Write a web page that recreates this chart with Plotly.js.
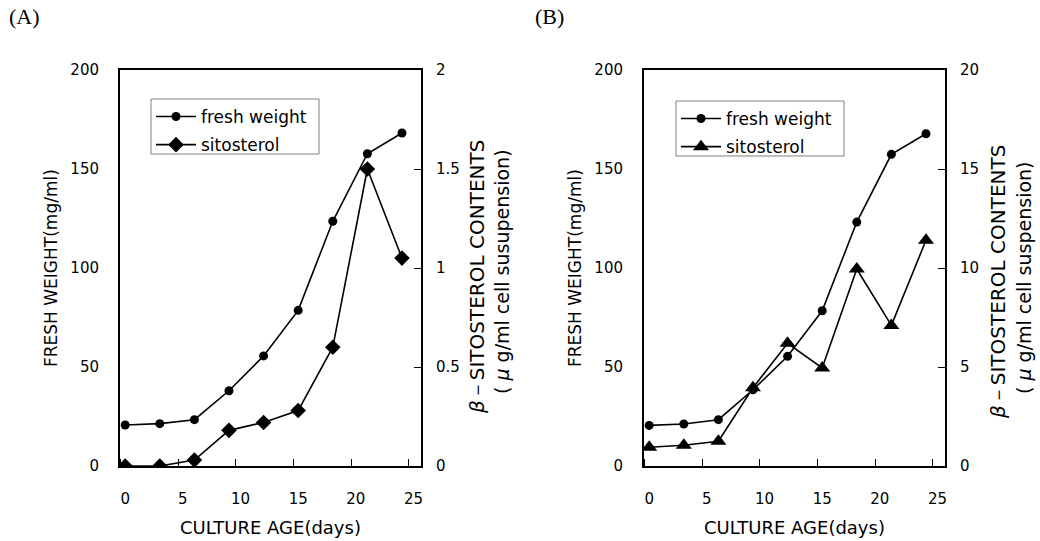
<!DOCTYPE html>
<html>
<head>
<meta charset="utf-8">
<script src="https://cdn.plot.ly/plotly-3.0.1.min.js"></script>
<style>html,body{margin:0;padding:0;background:#fff;}#chart{width:1040px;height:541px;}</style>
</head>
<body>
<div id="chart"></div>
<script>
// ---- data ----
var days = [0, 3, 6, 9, 12, 15, 18, 21, 24];
var freshA = [20.7, 21.4, 23.4, 38.0, 55.6, 78.6, 123.6, 157.7, 168.2];
var sitoA = [0, 0, 0.03, 0.18, 0.22, 0.28, 0.60, 1.50, 1.05];
var freshB = [20.5, 21.2, 23.4, 38.5, 55.4, 78.4, 123.2, 157.4, 167.8];
var sitoB = [0.95, 1.05, 1.25, 3.95, 6.2, 4.95, 9.95, 7.1, 11.4];
var xTicks = [0, 5, 10, 15, 20, 25];
var yLeftTicks = [0, 50, 100, 150, 200];
var yRightTicksA = [0, 0.5, 1, 1.5, 2];
var yRightTextA = ['0', '0.5', '1', '1.5', '2'];
var yRightTicksB = [0, 5, 10, 15, 20];
var seriesNames = ['fresh weight', 'sitosterol'];

var SANS = 'DejaVu Sans, Liberation Sans, Arial, sans-serif';
var tickFont = {family: SANS, size: 15, color: '#000'};

function fwTrace(y, xa, ya, leg) {
  return {x: days, y: y, xaxis: xa, yaxis: ya, name: seriesNames[0], legend: leg,
    legendgroup: leg + 'a', mode: 'lines+markers', type: 'scatter',
    line: {color: '#000', width: 1.6}, marker: {symbol: 'circle', size: 9, color: '#000'}};
}
function stTrace(y, xa, ya, leg, sym, size) {
  return {x: days, y: y, xaxis: xa, yaxis: ya, name: seriesNames[1], legend: leg,
    legendgroup: leg + 'b', mode: 'lines+markers', type: 'scatter',
    line: {color: '#000', width: 1.6}, marker: {symbol: sym, size: size, color: '#000'}};
}

var traces = [
  fwTrace(freshA, 'x', 'y', 'legend'),
  stTrace(sitoA, 'x', 'y2', 'legend', 'diamond', 12),
  fwTrace(freshB, 'x2', 'y3', 'legend2'),
  stTrace(sitoB, 'x2', 'y4', 'legend2', 'triangle-up', 14)
];

var W = 1040, H = 541, ML = 120, MR = 95, MT = 70, MB = 75;
var PW = W - ML - MR, PH = H - MT - MB;
function px(x) { return (x - ML) / PW; }
function py(y) { return (H - MB - y) / PH; }

function xAxis(dom, anchor) {
  return {domain: dom, anchor: anchor, range: [-0.45, 25.65], tickmode: 'array', tickvals: xTicks,
    ticks: '', showline: true, linecolor: '#000', linewidth: 2, mirror: true,
    showgrid: false, zeroline: false, tickfont: tickFont, ticklabelstandoff: 18,
    minor: {tick0: -0.4, dtick: 5, ticks: 'inside', ticklen: 7, tickcolor: '#000', tickwidth: 1, showgrid: false}};
}
function yLeft(anchor) {
  return {anchor: anchor, domain: [0, 1], range: [0, 200], tickmode: 'array', tickvals: yLeftTicks,
    ticks: '', showline: true, linecolor: '#000', linewidth: 2, showgrid: false, zeroline: false,
    tickfont: tickFont, ticklabelstandoff: 16};
}
function yRight(anchor, over, rng, vals, text) {
  return {anchor: anchor, overlaying: over, side: 'right', range: rng, tickmode: 'array', tickvals: vals,
    ticktext: text, ticks: 'inside', ticklen: 7, tickcolor: '#000', showline: true, linecolor: '#000',
    linewidth: 2, showgrid: false, zeroline: false, tickfont: tickFont, ticklabelstandoff: 10};
}

function legendCfg(x, y) {
  return {x: x, y: y, xanchor: 'left', yanchor: 'top', borderwidth: 0,
    bgcolor: 'rgba(0,0,0,0)', font: {family: SANS, size: 17, color: '#000'}, itemwidth: 40,
    traceorder: 'grouped', tracegroupgap: 3};
}

var titleFont = {family: SANS, size: 17, color: '#000'};
var rtFont1 = {family: SANS, size: 20, color: '#000'};
var rtFont2 = {family: SANS, size: 19, color: '#000'};
var labFont = {family: 'Liberation Serif, Times New Roman, serif', size: 22, color: '#000'};

function ann(text, x, y, font, angle) {
  return {text: text, xref: 'paper', yref: 'paper', x: px(x), y: py(y), xanchor: 'center', yanchor: 'middle',
    showarrow: false, font: font, textangle: angle || 0};
}

var annotations = [
  ann('(A)', 24, 17, labFont),
  ann('(B)', 549, 17, labFont),
  ann('FRESH WEIGHT(mg/ml)', 51, 268, titleFont, -90),
  ann('FRESH WEIGHT(mg/ml)', 575, 268, titleFont, -90),
  ann('CULTURE AGE(days)', 270, 527, {family: SANS, size: 18, color: '#000'}),
  ann('CULTURE AGE(days)', 794, 527, {family: SANS, size: 18, color: '#000'}),
  ann('<i>β</i>－SITOSTEROL CONTENTS', 477, 277, rtFont1, -90),
  ann('( <i>μ</i> g/ml cell susupension)', 502, 272, rtFont2, -90),
  ann('<i>β</i>－SITOSTEROL CONTENTS', 998, 282, rtFont1, -90),
  ann('( <i>μ</i> g/ml cell suspension)', 1024, 278, rtFont2, -90)
];

function box(x0, y0, x1, y1) {
  return {type: 'rect', xref: 'paper', yref: 'paper', x0: px(x0), x1: px(x1), y0: py(y0), y1: py(y1),
    line: {color: '#808080', width: 1}, fillcolor: 'rgba(0,0,0,0)', layer: 'below'};
}

var layout = {
  width: W, height: H, margin: {l: ML, r: MR, t: MT, b: MB}, paper_bgcolor: '#fff', plot_bgcolor: '#fff',
  showlegend: true,
  xaxis: xAxis([0, px(421)], 'y'),
  yaxis: yLeft('x'),
  yaxis2: yRight('x', 'y', [0, 2], yRightTicksA, yRightTextA),
  xaxis2: xAxis([px(644), 1], 'y3'),
  yaxis3: yLeft('x2'),
  yaxis4: yRight('x2', 'y3', [0, 20], yRightTicksB, yRightTicksB.map(String)),
  legend: legendCfg(px(151), py(99)),
  legend2: legendCfg(px(676), py(101)),
  shapes: [box(151, 99, 319, 154), box(676, 101, 844, 156)],
  annotations: annotations
};

Plotly.newPlot('chart', traces, layout, {staticPlot: true});
</script>
</body>
</html>
